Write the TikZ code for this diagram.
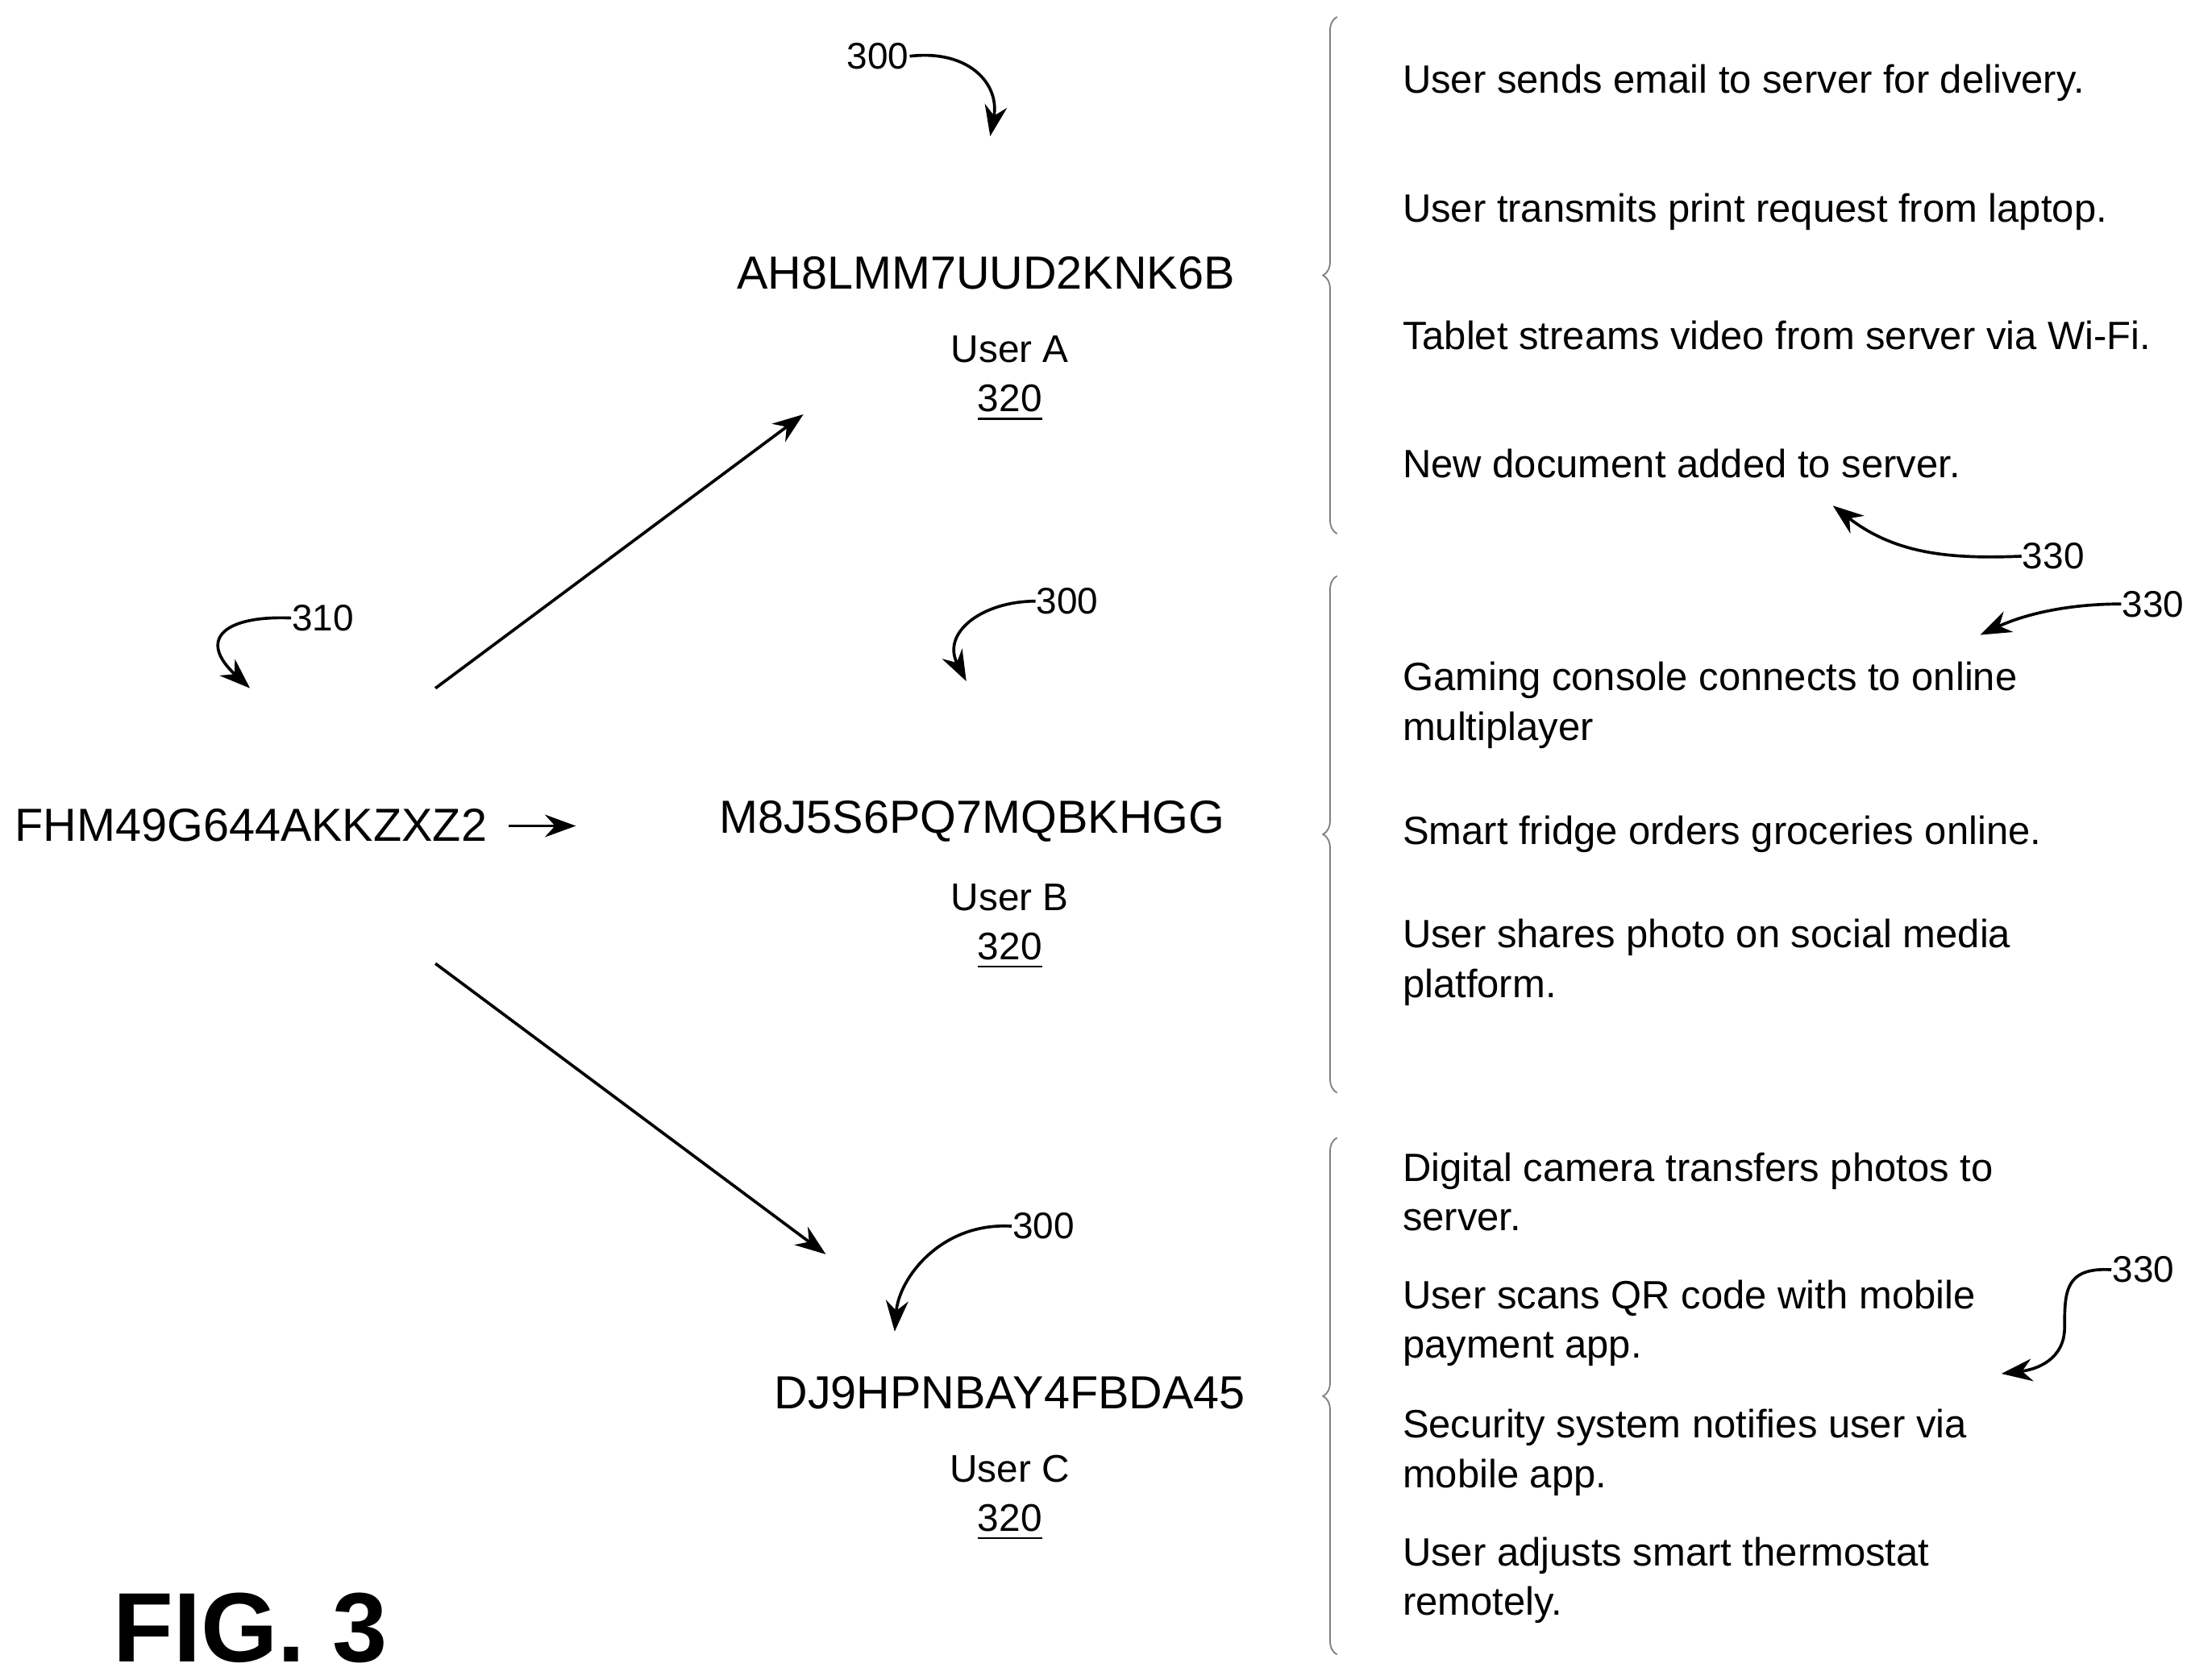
\documentclass[tikz,border=0pt]{standalone}
\usepackage{fontspec}
\setmainfont{Liberation Sans}
\usetikzlibrary{decorations.pathreplacing,arrows.meta}
\begin{document}
\begin{tikzpicture}[x=0.1mm,y=-0.1mm,
  lbl/.style={inner sep=0pt,font=\fontsize{8pt}{10pt}\selectfont,align=left,anchor=base west},
  code/.style={inner sep=0pt,font=\fontsize{9.4pt}{11pt}\selectfont,anchor=base},
  usr/.style={inner sep=0pt,font=\fontsize{7.8pt}{10pt}\selectfont,anchor=base},
  ref/.style={inner sep=0pt,font=\fontsize{7.5pt}{10pt}\selectfont},
  arr/.style={line width=0.6pt,-{Stealth[length=2.2mm,width=1.6mm]}},
  brc/.style={gray,line width=0.3pt,decorate,decoration={brace,amplitude=1mm,mirror}}]
\useasboundingbox (0,0) rectangle (1560,1196);
% left code
\node[code,anchor=base west] (src) at (10,599) {FHM49G644AKKZXZ2};
\coordinate (sa) at (362,588); \coordinate (sb) at (410,588);
\draw[arr] (sa) -- (sb);
\node[ref] (r310) at (230,440) {310};
\coordinate (c310) at (178,490);
\draw[arr] (r310.west) .. controls (160,438) and (140,455) .. (c310);
% users
\node[code] (ka) at (702,206) {AH8LMM7UUD2KNK6B};
\node[usr] (ua) at (719,258) {User A};
\node[usr] (na) at (719,293) {\underline{320}};
\node[code] (kb) at (692,593) {M8J5S6PQ7MQBKHGG};
\node[usr] (ub) at (719,648) {User B};
\node[usr] (nb) at (719,683) {\underline{320}};
\node[code] (kc) at (719,1003) {DJ9HPNBAY4FBDA45};
\node[usr] (uc) at (719,1055) {User C};
\node[usr] (nc) at (719,1090) {\underline{320}};
% main arrows
\coordinate (a1) at (310,490); \coordinate (a2) at (572,295);
\coordinate (b1) at (310,686); \coordinate (b2) at (588,893);
\draw[arr] (a1) -- (a2);
\draw[arr] (b1) -- (b2);
% 300 labels
\node[ref] (t1) at (625,40) {300};
\coordinate (e1) at (705,97);
\draw[arr] (t1.east) .. controls (690,35) and (712,60) .. (e1);
\node[ref] (t2) at (760,428) {300};
\coordinate (e2) at (688,485);
\draw[arr] (t2.west) .. controls (700,428) and (670,450) .. (e2);
\node[ref] (t3) at (743,873) {300};
\coordinate (e3) at (637,948);
\draw[arr] (t3.west) .. controls (670,870) and (640,910) .. (e3);
% braces
\coordinate (g1) at (952,12); \coordinate (h1) at (952,380);
\coordinate (g2) at (952,410); \coordinate (h2) at (952,778);
\coordinate (g3) at (952,810); \coordinate (h3) at (952,1178);
\draw[brc] (g1) -- (h1);
\draw[brc] (g2) -- (h2);
\draw[brc] (g3) -- (h3);
% texts (base = last line)
\node[lbl] (l1) at (998,66) {User sends email to server for delivery.};
\node[lbl] (l2) at (998,158) {User transmits print request from laptop.};
\node[lbl] (l3) at (998,249) {Tablet streams video from server via Wi-Fi.};
\node[lbl] (l4) at (998,340) {New document added to server.};
\node[lbl] (l5) at (998,527) {Gaming console connects to online\\multiplayer};
\node[lbl] (l6) at (998,601) {Smart fridge orders groceries online.};
\node[lbl] (l7) at (998,710) {User shares photo on social media\\platform.};
\node[lbl] (l8) at (998,876) {Digital camera transfers photos to\\server.};
\node[lbl] (l9) at (998,967) {User scans QR code with mobile\\payment app.};
\node[lbl] (l10) at (998,1059) {Security system notifies user via\\mobile app.};
\node[lbl] (l11) at (998,1150) {User adjusts smart thermostat\\remotely.};
% 330 labels
\node[ref] (s1) at (1462,396) {330};
\coordinate (f1) at (1305,360);
\draw[arr] (s1.west) .. controls (1390,398) and (1350,395) .. (f1);
\node[ref] (s2) at (1533,430) {330};
\coordinate (f2) at (1410,452);
\draw[arr] (s2.west) .. controls (1470,430) and (1440,438) .. (f2);
\node[ref] (s3) at (1526,904) {330};
\coordinate (f3) at (1425,978);
\draw[arr] (s3.west) .. controls (1470,902) and (1470,920) .. (1470,945) .. controls (1470,968) and (1450,975) .. (f3);
% fig
\node[inner sep=0pt,anchor=base west,font=\fontsize{20pt}{22pt}\selectfont\bfseries] (fig) at (80,1183) {FIG. 3};
\end{tikzpicture}
\end{document}
